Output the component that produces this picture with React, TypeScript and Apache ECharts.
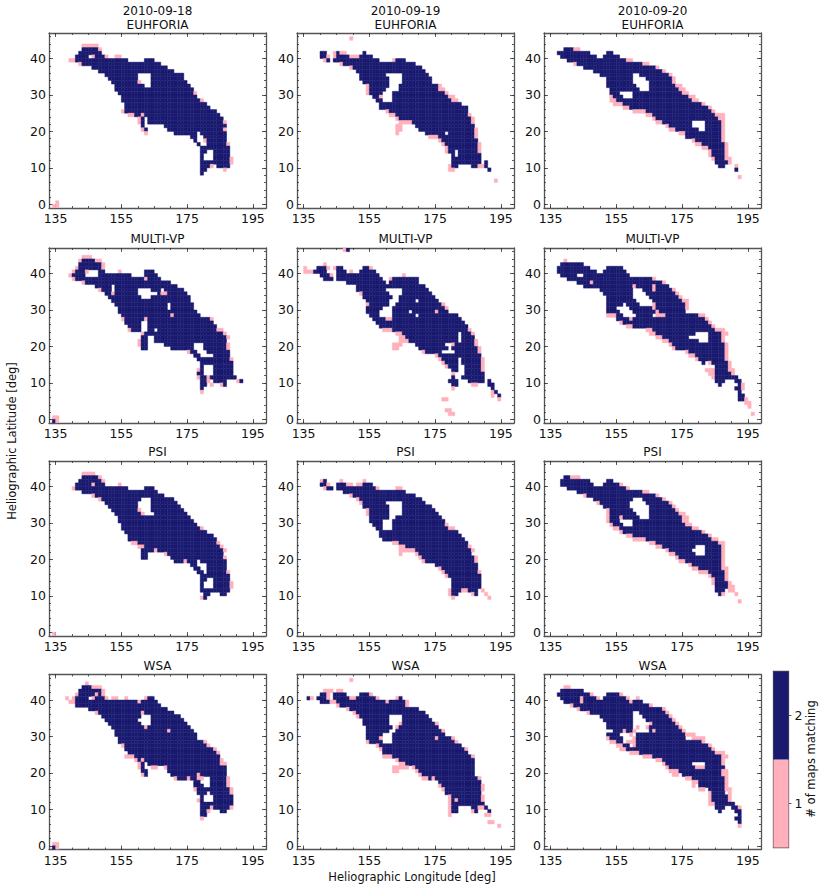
import React, { useEffect, useRef } from "react";
import * as echarts from "echarts";

const euhforia18 = ["43 p143-147","42 n143-147 p148","41 n142-148","40 n141-144 p146 n147-149 p150 p153-154","39 p139-140 n141-156 n162-164","38 p142 n143-166","37 n146-168","36 n148-170","35 n150-159 n164-173","34 n151-159 n164-173","33 n152-159 p160 n164-174","32 n153-161 n164-175","31 n153-176","30 n154-176 p177","29 n155-177","28 n155-178 p179","27 n156-180","26 n156-181","25 p155 n156-183","24 p157-158 n159-160 p161 n162-184","23 p160 n161 n163-185","22 p160 n161 n163-185 p186","21 n161 n168-186","20 p161 n162 n169-185 p186","19 p162 n171-177 n179-186","18 n176-177 n180-186","17 n177 p180 n181-186","16 n178 n181-186 p187","15 n179-187","14 n179-180 n183-187","13 n179 n183-187","12 n179 n183-187 p188","11 n179-187 p188","10 n179-181 p182 n184-187","9 n179-180 p186","8 n179","0 p135","-1 p134-135"];
const euhforia19 = ["45 p149","41 n140-141 p144 n145 p146-147 n153","40 n140-141 p142 p144 n145-148 p149-151 n152-155","39 p141 n142 n144-157 p162 n163-165","38 p146 n147-168","37 p149 n150-170","36 n151-171","35 n152-159 n165-172","34 n152-160 n165-173","33 n153-160 n165-173","32 p154 n155-160 n164-175 p176","31 p154 n155-159 n164-175 p176-177","30 p154 n155-158 n162-177 p178","29 n156-157 p158 n162-178 p179-180","28 n157-158 n162-179 p180-181","27 n158-182","26 n158-184","25 p160 n161-184","24 p161-162 n163-184 p185","23 p163 n164-185 p186","22 p164-167 n168-185 p186","21 p163-164 n169-186","20 p163-164 n170-186 p187","19 p163 n172-177 n179-186 p187","18 p173-175 n176-186 p187","17 p176 n177-187","16 p177 n178-187 p188","15 p178 n179-187 p188","14 p178 n179-180 n182-187 p188","13 n180 n182-188","12 n180-188","11 n180-188 n190","10 p179 n180-181 n186-187 p188-189 n190","9 p179-180 n191","6 p193"];
const euhforia20 = ["42 n139-141 p142-143","41 n137-146 n152-153","40 n138-148 n151-155","39 n140-157 p158-159","38 p142 n143-162 p163-164","37 n145-166 p167","36 n148-168 p169","35 n150-159 n162-170 p171","34 n152-159 n164-171 p172","33 n152-159 n165-171 p172","32 n152-160 n165-172 p173-174","31 n153-161 n165-173 p174-175","30 n153-155 n160-174 p175-176","29 p153 n154-156 n160-176 p177-178","28 p153-154 n155-177 p178-179","27 p154-156 n157-180 p181","26 p157-158 n159-182 p183","25 p160-163 n164-183 p184","24 p164-165 n166-184 p185-187","23 p166 n167-185 p186-187","22 p167-168 n169-177 n182-186 p187","21 p170 n171-177 n182-186 p187","20 p171-172 n173-179 n182-186 p187","19 p174-175 n176-186 p187","18 n176-186 p187","17 p178 n179-186 p187","16 p179-180 n181-187 p188","15 p181-182 n183-187 p188","14 p183 n184-187 p188","13 p183 n184-187 p188","12 p184 n185-187 p188-189","11 n185-188 p189","10 n186-187 p191","9 n191","7 p192"];

const multi18 = ["44 p143-145","43 p142 n143-146 p147-148","42 n142-148 p149","41 p141 n142-148 p149","40 p140 n141-143 p144 n148-149 p154 n162-164","39 p139 n140-143 n148-157 n162-165","38 p140 n141-161 p162 n163-166","37 p143 n144-169","36 n147-151 n153-171","35 p148 n149-151 n153-159 n164-166 n168-173","34 n150-151 p152 n153-159 n166 p167-168 n169-174","33 n151-160 n164-175","32 n152-175","31 n153-168 n170-176","30 n154-168 n170-176","29 n154-177","28 n155-169 p170 n171-178","27 p155 n156-161 p162 n163-181 p182","26 n156-160 n163-182","25 n157-160 n163-183","24 p157 n158-160 n163-164 n166-183 p184-185","23 p161 n162-185 p186","22 n161-162 n165-186 p187","21 p160 n161-162 n165-186","20 p160 n161-162 n168-176 n180-186 p187","19 n161-162 n170-176 n180-186 p187","18 p175 n176-177 n181-187","17 n177-178 n183-187","16 n178-187 p188","15 n179-188","14 n179 n183-188","13 p178 n179 n183-188","12 n178-179 n183-188","11 p178 n179-180 p181 n182-189","10 n179-180 p181 n183-186 p190 n191","9 n179-180 p182 p185 n186","8 n179","7 p179","0 p134-135","-1 n134 p135"];
const multi19 = ["46 p147 n148","42 p141","41 p135 n139-141 p142 p144 n145-146 n153-154 p155","40 p135-137 n138-141 n145-147 p149 n152-156","39 n140-142 p143 n145-157 p165","38 n141-143 n145-158 p161 n162-169","37 n148-159 n161-169","36 n151-171","35 n151-159 n165-172","34 p152 n153-160 n165-173","33 n153-161 n164-174","32 n154-160 n164-168 n170-175","31 p154 n155-160 n163-176 p177","30 n154-158 n162-177 p178","29 n154-157 n162-166 n168-174 p175 n176-178","28 n155-157 n162-168 n170-181","27 n156-159 p160-161 n162-182","26 n157-183","25 n158-184","24 p159-161 n162-184 p185","23 p163-164 n165-181 n183-185 p186","22 p164-165 n166-181 n183-186","21 p164-166 n167-181 n183-186 p187","20 p162-164 n169-177 p180 n181-186 p187","19 p162-163 n170-178 n180-187 p188","18 p171 n172-176 n181-187 p188","17 p175 n176-188","16 p176 n177-181 n183-188 p189","15 p177 n178-181 n183-188 p189","14 p178 n179-181 n184-188 p189","13 n180-181 n184-188 p189","12 p180 n184-189","11 n180 n183-189","10 n179-181 n185-189 n191","9 n180-181 p186-187 n191-192","8 p180 n192","7 p192 n193","6 p192 n194","5 p177-178 p194","2 p178-179","1 p179-180"];
const multi20 = ["43 p139","42 n138-144","41 n137-146 n152-156","40 n137-148 n151-157","39 n138-142 n145-158","38 n140-165 p166","37 n143-146 p147 n148-166 n167-168 p169","36 n145-159 p160 n161-165 p166 n167-170","35 n150-159 n163-165 p166 n167-171 p172","34 n151-159 n164-172 p173","33 n152-159 n165-173 p174","32 n152-160 n166-174 p175-176","31 n152-156 n158-161 p166 n167-175 p176","30 n152-154 n159-165 p166 n167-175 p176","29 n152-155 n160-166 p167 n168-175","28 p152-154 n155-156 n161-165 p167-169 n170-179 p180-181","27 n155-158 p159 n160-181 p182","26 p156 n157-182 p183","25 p158-159 n160-183 p184","24 p164-165 n166-184 p185-187","23 p165-166 n167-178 n183-186 p187-188","22 p167-168 n169-176 n183-186 p187","21 p169-170 n171-179 n183-186 p187","20 p171 n172-187 p188","19 p172 n173-187 p188","18 p176 n177-187 p188","17 p177-178 n179-187 p188","16 p179 n180-187 p188","15 n181 p183 n184-188 p189","14 n185-188 p189","13 p182-184 n185-188 p189-190","12 p183-184 n185-189 p190","11 p184 n185-191","10 n185-187 n191-192","9 n186 n192 p193","8 n191-192 p193","7 n192","6 n192-193","5 n192-193 p194","4 p194-195","3 p195","1 p196"];

const psi18 = ["43 p143-146","42 n143-147 p148","41 n142-148 p149","40 n141-145 p146 n147-149 p154","39 p140 n141-156 n162-164","38 n143-165","37 p146 n147-167","36 p148 n149-160 n164-170","35 n150-159 n164-171","34 n151-159 n164-172","33 n152-159 p160 n164-173","32 n153-160 p161 n165-174","31 n154-175","30 n154-176","29 n155-177","28 n155-178 p179","27 n156-180","26 n157-182","25 n157-183","24 p158-159 n160-183 p184","23 p160-161 n162-184 p185","22 n161-164 p165 n166-185 p186","21 n161-162 p168 n169-185","20 n161-162 n170-185 p186","19 n171-173 p174 n175-177 n179-186","18 n176-177 n181-186","17 n177-178 n181-186","16 n178-179 n181-186 p187","15 n179-187","14 n179-180 n183-187","13 n179 n183-187 p188","12 n179 n183-187 p188","11 n179-187","10 n180-181 n185-186","9 p179 n180","-1 p134"];
const psi19 = ["41 p140 n141 p146 p153","40 n140-141 p142 n145-147 p148-149 p151-152 n153-155","39 p141 n142-143 n145-156 p157 p163-164","38 n147-165","37 p149 n150-168","36 p151 n152-170","35 p152 n153-159 n165-171","34 n153-160 n165-173","33 p154 n155-160 n165-174","32 p154 n155-160 n165-175","31 n155-160 n163-176","30 n155-158 n162-177","29 n156-158 n162-177 p178","28 n157-158 n162-178 p179-180","27 n158-181","26 n158-182","25 n159-183","24 p162-163 n164-184","23 p164-165 n166-184 p185","22 p164-168 n169-185 p186","21 p164 p169 n170-185","20 p170 n171-186 p187","19 p171 n172-186 p187","18 n175-187","17 p176 n177-187","16 p177 n178-187 p188","15 p178 n179-188","14 n180-188","13 n180-188","12 n180-188","11 p179 n180-182 p183-184 n185-187 p189","10 p179 n180-181 p186 n187 p190","9 p180 p191"];
const psi20 = ["42 n139-140 p141-143","41 n138-146 n152-153","40 n138-147 n151-155 p156","39 n140-157 p158","38 n143-162 p163-164","37 p145 n146-166 p167","36 n148-159 n163-168 p169","35 p149 n150-158 n164-170 p171","34 n151-158 n165-171 p172","33 p152 n153-159 n165-172 p173","32 p152 n153-160 n165-173 p174-175","31 p152 n153-155 p156 n157-161 n165-174 p175-176","30 p152 n153-155 n160-174 p175-176","29 p153 n154-156 n160-175 p176-177","28 p154-155 n156-177 p178-179","27 p156 n157-180 p181","26 p158-159 n160-182 p183","25 p160-163 n164-183 p184-185","24 p165-166 n167-185 p186-187","23 p167-168 n169-178 n182-186 p187","22 p170 n171-177 n182-186 p187","21 p171-172 n173-178 n182-186 p187","20 p173 n174-186 p187","19 p174-175 n176-186 p187","18 p177 n178-186 p187","17 p178-179 n180-186 p187-188","16 p180-182 n183-187 p188","15 p183 n184-187 p188","14 p184 n185-187 p188","13 p184 n185-188 p189","12 n185-188 p189-190","11 n185-187 p189-190","10 n186 p187 p191","8 p192"];

const wsa18 = ["44 p144","43 n143-145 p146-148","42 n142-148 p149","41 p141 n142-146 p147 n148 p149","40 p138 p140 n141-144 p146 n147-149 p150 p152-153 p156 p162 n163-164","39 p139-140 n141-159 p160 n161-165","38 n141-166","37 n145-168","36 p147 n148-160 p161 n162-170","35 n149-160 n164-172","34 n150-159 n164-173","33 n151-160 n164-174","32 n152-161 p162 n163-175","31 n153-168 p169 n170-176","30 n153-177","29 n154-177","28 n154-179 p180","27 p155 n156-180 p181","26 n156-182 p183","25 n157-183 p184","24 p156-158 n159-184","23 p159 n160 p161 n162-184 p185","22 p160 n161 n163-184 p185-186","21 p160 n161 p164-165 p168 n169-186","20 n161-162 n169-186","19 p161 n162 n170-177 p178 n179-186","18 p171 n172-174 p175 n176-177 p178-179 n182-186 p187","17 n177-178 n182-186 p187","16 n177-179 n182-186 p187","15 p177 n178-187 p188","14 n178-180 n182-187 p188","13 n179 n183-188","12 p178 n179 n183-188","11 n179-188","10 n179-181 p182 n183-187 p188","9 n179-180 p181 n185-186","8 n179-180","7 p179","0 p134-135","-1 n134 p135"];
const wsa19 = ["45 p149","42 p141-143 p145-146","41 n140-141 p142 n144-147 n152-154 p155","40 n136 p137 n139-141 p142 n144-148 p149-150 n151-156 p157 p163 n164","39 n140-142 p143-144 n145-159 p160 n161-165 p166","38 p145 n146-165 p166","37 p148 n149-169","36 p150 n151-171","35 p151 n152-160 n165-172","34 n153-160 n165-173","33 n153-160 p164 n165-174 p175","32 n154-161 p163 n164-175","31 n154-160 n163-176 p177","30 n154-158 n162-177","29 n154-157 p158 n162-174 p175 n176-179 p180","28 p154 n155-158 n162-180 p181","27 p157 n158-182","26 p158 n159-183 p184","25 n159-184","24 p159-161 n162-185 p186","23 p163 n164-186","22 p164-165 n166-186","21 p162-166 p168 n169-186","20 p162-163 p169 n170-186","19 p170 n171-186","18 p171-172 n173 p174 n175-187 p188","17 n176-188","16 p176 n177-188 p189","15 p177 n178-188 p189","14 n178-188","13 p179 n180-188 p189","12 p179 n180 p181 n182-188 p189","11 p179 n180-189","10 p179 n180-181 n186-187 p188-189 n190","9 p179 n180-181 p186 n187 n191","8 p179 p190-191","6 p191-192","5 p194"];
const wsa20 = ["43 p139-140","42 n138-144","41 n137-146 p147 n152-155 p156","40 n138-143 p144 n145-148 p149 n151-157 p158 p161","39 n139-143 p144 n145-158 p159 n160-162","38 p141 n142-164 p165","37 p143 n144-168 p169","36 p146 n147-159 n162-169 p170","35 n150-159 n163-170 p171","34 n151-159 n164-171 p172","33 n152-159 p165 n166-172 p173","32 n152-159 p161 p164 n165-173 p174","31 n154-156 p157 n158-159 p160 n165 p166 n167-174 p175","30 n152-155 p159 n161-175 p176-177 p178","29 p152 n153-156 p160 n161-175 p178-181","28 p153-154 n155-156 p158-160 n161-180 p181","27 p155-156 n157-158 p160 n161-182 p183","26 p156-157 n158-183 p184","25 p159-161 n162-184 p185-187","24 p163-165 n166-186 p187-188","23 p167-168 n169-186 p187","22 p169 n170-177 n182-186 p187","21 p170 n171-178 p179-181 n182-187","20 p171-173 n174-186 p187-188","19 p172-173 n175-186 p187-188","18 p176-177 n178-187 p188","17 p178-179 n180-187 p188","16 p178 n180-187 p188","15 p180-181 n183-187 p188-189","14 p183 n184-187 p189","13 p183 n184-188 p189","12 p183 n184-188 p189","11 p183-184 n185-190","10 n185-187 n190-191 p192","9 n186 n191-192","8 n192","7 n191-192","6 n192","5 p192"];

const dates = ["2010-09-18", "2010-09-19", "2010-09-20"];
const models = ["EUHFORIA", "MULTI-VP", "PSI", "WSA"];
const panelRows = [
  [euhforia18, euhforia19, euhforia20],
  [multi18, multi19, multi20],
  [psi18, psi19, psi20],
  [wsa18, wsa19, wsa20],
];
const lonTicks = [135, 155, 175, 195];
const lonMinor = [135, 140, 145, 150, 155, 160, 165, 170, 175, 180, 185, 190, 195];
const latTicks = [0, 10, 20, 30, 40];
const latMinor = [0, 2, 4, 6, 8, 10, 12, 14, 16, 18, 20, 22, 24, 26, 28, 30, 32, 34, 36, 38, 40, 42, 44, 46];
const colorbarValues = [1, 2];

const NAVY = "#191970";
const PINK = "#ffb0bb";
const SPINE = "#555555";
const FONT = "DejaVu Sans";
const TICK_SIZE = 12.5;
const colLeft = [49, 297, 544];
const rowTop = [33, 248, 461, 674.5];
const panelW = 217;
const panelH = 175;

function expand(rows: string[]) {
  const cells: number[][] = [];
  for (const r of rows) {
    const parts = r.split(" ");
    const lat = Number(parts[0]);
    for (const tok of parts.slice(1)) {
      const v = tok[0] === "n" ? 2 : 1;
      const [a, b] = tok.slice(1).split("-").map(Number);
      for (let lon = a; lon <= (b ?? a); lon++) cells.push([lon, lat, v]);
    }
  }
  return cells;
}

function renderCell(_: any, api: any) {
  const lon = api.value(0), lat = api.value(1), v = api.value(2);
  const p0 = api.coord([lon, lat + 1]);
  const p1 = api.coord([lon + 1, lat]);
  const sys = api.coordSys ? api.coordSys() : { x: 0, y: 0, width: 822, height: 891 };
  const clip = echarts.graphic.clipRectByRect(
    { x: p0[0], y: p0[1], width: p1[0] - p0[0], height: p1[1] - p0[1] },
    { x: sys.x, y: sys.y, width: sys.width, height: sys.height }
  );
  if (!clip) return null;
  const color = v === 2 ? NAVY : PINK;
  return { type: "rect", shape: clip, style: { fill: color, stroke: color, lineWidth: 0.45 } };
}

function renderBar(_: any, api: any) {
  const v = api.value(0);
  const p0 = api.coord([0, v + 0.5]);
  const p1 = api.coord([1, v - 0.5]);
  return { type: "rect", shape: { x: p0[0], y: p0[1], width: p1[0] - p0[0], height: p1[1] - p0[1] }, style: { fill: v === 2 ? NAVY : PINK } };
}

function buildOption() {
  const grid: any[] = [], xAxis: any[] = [], yAxis: any[] = [], series: any[] = [], title: any[] = [];
  const line = { show: true, onZero: false, lineStyle: { color: SPINE, width: 1.3 } };
  const noLine = { show: false, onZero: false };
  const tick = (values: number[], length: number) => ({
    show: true, inside: true, length, customValues: values, lineStyle: { color: "#333", width: 0.8 },
  });
  panelRows.forEach((rowPanels, r) => {
    rowPanels.forEach((rows, c) => {
      const g = grid.length;
      grid.push({ left: colLeft[c], top: rowTop[r], width: panelW, height: panelH, containLabel: false });
      const x0 = xAxis.length, y0 = yAxis.length;
      const xBase = { type: "value", gridIndex: g, min: 133, max: 199, splitLine: { show: false } };
      const yBase = { type: "value", gridIndex: g, min: -1, max: 47, splitLine: { show: false } };
      xAxis.push(
        { ...xBase, position: "bottom", axisLine: line, axisTick: tick(lonTicks, 4), axisLabel: { show: true, customValues: lonTicks, margin: 4, color: "#111", fontFamily: FONT, fontSize: TICK_SIZE, hideOverlap: false, showMinLabel: true, showMaxLabel: true } },
        { ...xBase, position: "top", axisLine: line, axisTick: tick(lonTicks, 4), axisLabel: { show: false } },
        { ...xBase, position: "bottom", axisLine: noLine, axisTick: tick(lonMinor, 2), axisLabel: { show: false } },
        { ...xBase, position: "top", axisLine: noLine, axisTick: tick(lonMinor, 2), axisLabel: { show: false } }
      );
      yAxis.push(
        { ...yBase, position: "left", axisLine: line, axisTick: tick(latTicks, 4), axisLabel: { show: true, customValues: latTicks, margin: 3, color: "#111", fontFamily: FONT, fontSize: TICK_SIZE, showMinLabel: true, showMaxLabel: true } },
        { ...yBase, position: "right", axisLine: line, axisTick: tick(latTicks, 4), axisLabel: { show: false } },
        { ...yBase, position: "left", axisLine: noLine, axisTick: tick(latMinor, 2), axisLabel: { show: false } },
        { ...yBase, position: "right", axisLine: noLine, axisTick: tick(latMinor, 2), axisLabel: { show: false } }
      );
      series.push({ type: "custom", xAxisIndex: x0, yAxisIndex: y0, data: expand(rows), renderItem: renderCell, silent: true, clip: true, encode: { x: 0, y: 1 } });
      title.push({
        text: r === 0 ? `${dates[c]}\n${models[r]}` : models[r],
        left: colLeft[c] + panelW / 2,
        top: r === 0 ? 4 : rowTop[r] - 16,
        textAlign: "center",
        textStyle: { fontFamily: FONT, fontSize: 12, fontWeight: "normal", color: "#111", lineHeight: 14 },
        padding: 0,
      });
    });
  });
  const g = grid.length;
  grid.push({ left: 773.5, top: 671.5, width: 15, height: 176 });
  const x0 = xAxis.length, y0 = yAxis.length;
  const cbX = { type: "value", gridIndex: g, min: 0, max: 1, axisTick: { show: false }, axisLabel: { show: false }, splitLine: { show: false }, axisLine: line };
  xAxis.push({ ...cbX, position: "bottom" }, { ...cbX, position: "top" });
  yAxis.push(
    { type: "value", gridIndex: g, min: 0.5, max: 2.5, position: "right", splitLine: { show: false }, axisLine: line,
      axisTick: { show: true, inside: false, length: 3, customValues: colorbarValues, lineStyle: { color: "#333", width: 0.8 } },
      axisLabel: { show: true, customValues: colorbarValues, margin: 6, color: "#111", fontFamily: FONT, fontSize: TICK_SIZE, formatter: (v: number) => String(v) } },
    { type: "value", gridIndex: g, min: 0.5, max: 2.5, position: "left", splitLine: { show: false }, axisLine: line, axisTick: { show: false }, axisLabel: { show: false } }
  );
  series.push({ type: "custom", xAxisIndex: x0, yAxisIndex: y0, data: colorbarValues.map((v) => [v]), renderItem: renderBar, silent: true, encode: { y: 0 } });

  const label = (text: string, x: number, y: number, rotation = 0) => ({
    type: "text", x, y, rotation,
    style: { text, fontFamily: FONT, fontSize: 11.5, fill: "#111", textAlign: "center", textVerticalAlign: "middle" },
  });
  const graphic = [
    label("Heliographic Longitude [deg]", 412, 877),
    label("Heliographic Latitude [deg]", 12, 441, Math.PI / 2),
    label("# of maps matching", 811, 759, Math.PI / 2),
  ];
  return { animation: false, backgroundColor: "#fff", grid, xAxis, yAxis, series, title, graphic };
}

export default function App() {
  const ref = useRef<HTMLDivElement>(null);
  useEffect(() => {
    const chart = echarts.init(ref.current!, undefined, { renderer: "svg" });
    chart.setOption(buildOption() as any);
    return () => chart.dispose();
  }, []);
  return <div ref={ref} style={{ position: "fixed", left: 0, top: 0, width: 822, height: 891 }} />;
}
